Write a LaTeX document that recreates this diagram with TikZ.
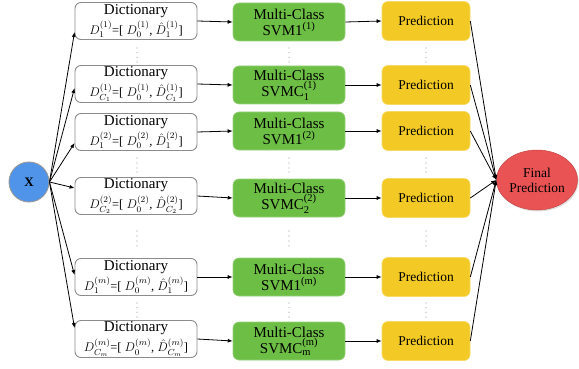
\documentclass[tikz,border=0pt]{standalone}
\usepackage{fix-cm}
\usepackage{amsmath}
\usepackage{fontspec}
\setmainfont{Liberation Serif}
\usetikzlibrary{arrows.meta,shapes.geometric,shadows}
\definecolor{dictborder}{HTML}{8C8C8C}
\definecolor{svmgreen}{HTML}{6CBE45}
\definecolor{predyellow}{HTML}{F3CA25}
\definecolor{xblue}{HTML}{4F94E8}
\definecolor{finalred}{HTML}{E95353}
\definecolor{dotgray}{HTML}{9A9A9A}
\newcommand{\dictlabel}[1]{{\fontsize{15}{15}\selectfont Dictionary}\\[3pt]{\fontsize{12.5}{13}\selectfont #1}}
\begin{document}
\begin{tikzpicture}[x=1pt,y=-1pt,
  dictbox/.style={draw=dictborder, line width=0.9pt, fill=white, rounded corners=6pt,
    minimum width=122pt, minimum height=37pt, align=center, inner sep=0pt},
  svmbox/.style={fill=svmgreen, draw=svmgreen!70!white, line width=0.6pt, rounded corners=6pt,
    minimum width=112pt, minimum height=38pt, align=center, inner sep=0pt,
    font=\fontsize{15}{16}\selectfont},
  predbox/.style={fill=predyellow, draw=predyellow!70!white, line width=0.6pt, rounded corners=6pt,
    minimum width=88pt, minimum height=39pt, inner sep=0pt,
    font=\fontsize{13.5}{15}\selectfont},
  conn/.style={-{Latex[length=5pt,width=4pt]}, line width=0.8pt},
  vdot/.style={fill=dotgray, circle, inner sep=0pt, minimum size=1.1pt}
]
\useasboundingbox (0,0) rectangle (579,369);

% input
\node[circle, fill=xblue, draw=gray!80, line width=0.9pt, minimum size=40pt, inner sep=0pt,
  font=\fontsize{13}{13}\selectfont\bfseries] (x) at (29,182) {X};

% dictionaries
\node[dictbox] (d1) at (136,21) {\dictlabel{$D_1^{(1)}$=[ $D_0^{(1)}$, ${\hat{D}}_1^{(1)}$]}};
\node[dictbox] (d2) at (136,84) {\dictlabel{$D_{C_1}^{(1)}$=[ $D_0^{(1)}$, ${\hat{D}}_{C_1}^{(1)}$]}};
\node[dictbox] (d3) at (136,132) {\dictlabel{$D_1^{(2)}$=[ $D_0^{(2)}$, ${\hat{D}}_1^{(2)}$]}};
\node[dictbox] (d4) at (136,196) {\dictlabel{$D_{C_2}^{(2)}$=[ $D_0^{(2)}$, ${\hat{D}}_{C_2}^{(2)}$]}};
\node[dictbox] (d5) at (136,277) {\dictlabel{$D_1^{(m)}$=[ $D_0^{(m)}$, ${\hat{D}}_1^{(m)}$]}};
\node[dictbox] (d6) at (136,339) {\dictlabel{$D_{C_m}^{(m)}$=[ $D_0^{(m)}$, ${\hat{D}}_{C_m}^{(m)}$]}};

% SVMs
\node[svmbox] (s1) at (289,22) {Multi-Class\\SVM1\textsuperscript{(1)}};
\node[svmbox] (s2) at (289,85) {Multi-Class\\SVMC$^{\text{(1)}}_{\text{1}}$};
\node[svmbox] (s3) at (289,131) {Multi-Class\\SVM1\textsuperscript{(2)}};
\node[svmbox] (s4) at (289,198) {Multi-Class\\SVMC$^{\text{(2)}}_{\text{2}}$};
\node[svmbox] (s5) at (289,277) {Multi-Class\\SVM1\textsuperscript{(m)}};
\node[svmbox] (s6) at (289,341) {Multi-Class\\SVMC$^{\text{(m)}}_{\text{m}}$};

% predictions
\node[predbox] (p1) at (426,21) {Prediction};
\node[predbox] (p2) at (426,85) {Prediction};
\node[predbox] (p3) at (426,131) {Prediction};
\node[predbox] (p4) at (426,198) {Prediction};
\node[predbox] (p5) at (426,277) {Prediction};
\node[predbox] (p6) at (426,341) {Prediction};

% final
\node[ellipse, fill=finalred, draw=finalred!85!black, line width=0.5pt,
  minimum width=81pt, minimum height=60pt, inner sep=0pt, align=center,
  drop shadow={shadow xshift=1pt, shadow yshift=-1.5pt, opacity=0.25},
  font=\fontsize{13.5}{15}\selectfont] (f) at (537,180) {Final\\Prediction};

% connectors from input
\draw[conn] (x.east) -- ([yshift=-11pt]d1.west);
\draw[conn] (x.east) -- ([yshift=-4pt]d2.west);
\draw[conn] (x.east) -- ([yshift=-11pt]d3.west);
\draw[conn] (x.east) -- ([yshift=8pt]d4.west);
\draw[conn] (x.east) -- ([yshift=2pt]d5.west);
\draw[conn] (x.east) -- ([yshift=11pt]d6.west);

% horizontal connectors
\foreach \i in {1,...,6}{
  \draw[conn] (d\i.east) -- (s\i.west);
  \draw[conn] (s\i.east) -- (p\i.west);
  \draw[conn] (p\i.east) -- (f.west);
}

% vertical dots
\foreach \xx in {137,289,426}{
  \foreach \yy in {48,52.7,57.3,62, 158,163,168,172, 231,236,241,246, 303,307.7,312.3,317}{
    \node[vdot] at (\xx,\yy) {};
  }
}
\end{tikzpicture}
\end{document}
